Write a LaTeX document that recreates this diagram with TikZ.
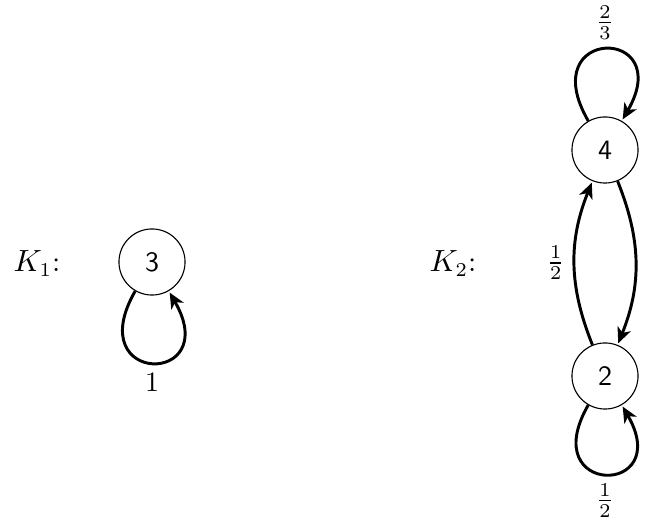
\documentclass[tikz,border=0pt]{standalone}
\usetikzlibrary{arrows.meta}
\begin{document}
\begin{tikzpicture}[x=0.3571pt, y=0.3571pt,
  state/.style={circle, draw, line width=0.4pt, minimum size=23.6pt, inner sep=0pt, font=\sffamily},
  edge/.style={line width=1.05pt, -{Stealth[length=5.6pt,width=5pt,inset=1.6pt]}, shorten >=0.6pt},
  lbl/.style={inner sep=3pt}]
  \useasboundingbox (0,0) rectangle (654,519);

  % chain K_1
  \node[anchor=base, font=\fontsize{10.5}{12}\selectfont] (k1) at (37,247) {$K_1$:};
  \node[state] (n3) at (152,257) {3};
  \draw[edge] (n3.-120) .. controls +(-120:110) and +(-60:110) .. node[lbl, below] (l31) {1} (n3.-60);

  % chain K_2
  \node[anchor=base, font=\fontsize{10.5}{12}\selectfont] (k2) at (453,247) {$K_2$:};
  \node[state] (n4) at (605,369) {4};
  \node[state] (n2) at (605,143) {2};
  \draw[edge] (n4.120) .. controls +(120:110) and +(60:110) .. node[lbl, above] (l44) {$\frac{2}{3}$} (n4.60);
  \draw[edge] (n2.-120) .. controls +(-120:106) and +(-60:106) .. node[lbl, below] (l22) {$\frac{1}{2}$} (n2.-60);
  \draw[edge] (n2) to[bend left=22] node[lbl, left] (l24) {$\frac{1}{2}$} (n4);
  \draw[edge] (n4) to[bend left=22] node[lbl, right, xshift=2pt] (l42) {$\frac{1}{3}$} (n2);
\end{tikzpicture}
\end{document}
